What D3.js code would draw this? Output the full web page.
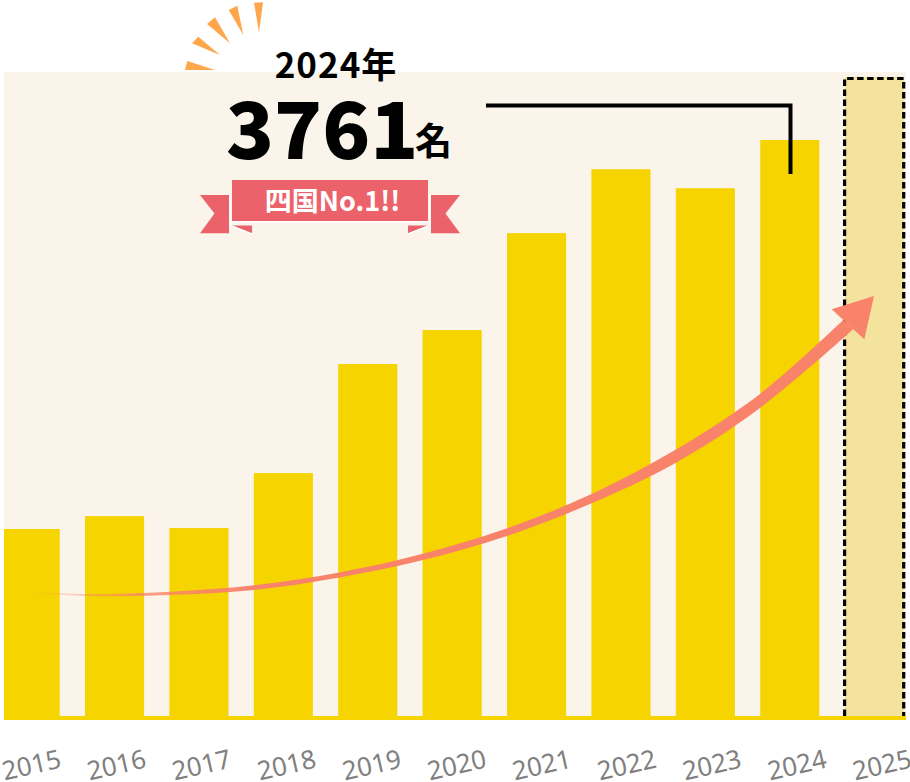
<!DOCTYPE html>
<html><head><meta charset="utf-8">
<style>html,body{margin:0;padding:0;background:#fff}svg{display:block}</style>
<script src="https://cdn.jsdelivr.net/npm/d3@7/dist/d3.min.js"></script>
</head><body><svg id="c" width="910" height="782"></svg>
<script>
const years=["2015","2016","2017","2018","2019","2020","2021","2022","2023","2024"];
const ghostYear="2025";
const values=[1221,1305,1227,1586,2298,2520,3153,3570,3446,3761];
const trendTop=[[20,591.5],[85,594],[170,591.7],[254,585.3],[338,572.7],[422,554],[507,528.3],[591,494.3],[676,449.5],[760,394],[843.3,320]];
const trendBot=[[20,591.5],[85,596],[170,595],[254,590],[338,577.7],[422,560.3],[507,536],[591,503.5],[676,462.7],[760,408],[853.3,329.3]];
const arrowHead=[[831.7,309.3],[843.3,320],[853.3,329.3],[864.3,339.3],[874,296]];
const rays=[[[185,70],[215,70],[187.3,61]],[[192,43.3],[220,55],[198.3,36.7]],[[207,24],[230,43.3],[215,17.3]],[[228.7,10],[243.3,35],[237.3,5.7]],[[254,2.7],[259,32.3],[263,2.3]]];

const svg=d3.select("#c");
const allYears=[...years,ghostYear];
const x=d3.scaleBand().domain(allYears).range([0.6,903.7]).paddingInner(0.3).paddingOuter(0);
const labelX=d3.scalePoint().domain(allYears).range([4.5,855]);
const y=d3.scaleLinear().domain([0,3761]).range([716,140]);
const JP='"Noto Sans CJK JP","Noto Sans",sans-serif';
const defs=svg.append("defs");
defs.append("clipPath").attr("id","plot").append("rect").attr("x",4).attr("y",72).attr("width",902).attr("height",648);
const g=defs.append("linearGradient").attr("id","fade").attr("gradientUnits","userSpaceOnUse").attr("x1",20).attr("x2",260).attr("y1",0).attr("y2",0);
g.append("stop").attr("offset",0).attr("stop-color","#f9826a").attr("stop-opacity",0);
g.append("stop").attr("offset",0.5).attr("stop-color","#f9826a").attr("stop-opacity",.75);
g.append("stop").attr("offset",1).attr("stop-color","#f9826a");

svg.append("rect").attr("x",4).attr("y",72).attr("width",902).attr("height",648).attr("fill","#faf4ea");
const plot=svg.append("g").attr("clip-path","url(#plot)");
plot.selectAll("rect.bar").data(values).join("rect").attr("class","bar")
 .attr("x",(d,i)=>x(years[i])).attr("width",x.bandwidth()).attr("y",d=>y(d)).attr("height",d=>y(0)-y(d)).attr("fill","#f5d400");
plot.append("rect").attr("x",x(ghostYear)).attr("width",x.bandwidth()).attr("y",77).attr("height",716-77).attr("fill","#f4e39c");
plot.append("rect").attr("x",4).attr("width",902).attr("y",716).attr("height",4).attr("fill","#f5d400");
svg.append("path").attr("d",`M${x(ghostYear)} 716V78.5H${x(ghostYear)+x.bandwidth()}V716`).attr("fill","none").attr("stroke","#000").attr("stroke-width",3.2).attr("stroke-dasharray","6.5 3.5");

// trend arrow
const up=d3.line().curve(d3.curveCatmullRom);
const topPath=up(trendTop), botPath=up([...trendBot].reverse());
svg.append("path").attr("d",topPath+"L"+botPath.slice(1)+"Z").attr("fill","url(#fade)");
svg.append("path").attr("d",d3.line()(arrowHead)+"Z").attr("fill","#f9826a");

// callout leader
svg.append("path").attr("d","M486 105.5H790.5V174").attr("fill","none").attr("stroke","#000").attr("stroke-width",4);

// sunburst
svg.selectAll("path.ray").data(rays).join("path").attr("class","ray").attr("d",d=>d3.line()(d)+"Z").attr("fill","#ffa64d");

// callout text
svg.append("text").attr("x",336).attr("y",78).attr("text-anchor","middle").attr("font-family",JP).attr("font-weight",700).attr("font-size",35).attr("letter-spacing",1).attr("fill","#000").text("2024年");
svg.append("text").attr("x",226).attr("y",159).attr("font-family",JP).attr("font-weight",900).attr("font-size",79).attr("fill","#000").text("3761");
svg.append("text").attr("x",415).attr("y",155).attr("font-family",JP).attr("font-weight",700).attr("font-size",37).attr("fill","#000").text("名");

// ribbon
const red="#ec626b";
svg.append("path").attr("d","M200 195H229V233.3H200L214.5 213.5Z").attr("fill",red);
svg.append("path").attr("d","M460 195H431V233.3H460L445.5 213.5Z").attr("fill",red);
svg.append("path").attr("d","M231 225.5H252V233.5ZM429 225.5H408V233.5Z").attr("fill",red);
svg.append("path").attr("d","M230.5 195V225.5L252 234M429.5 195V225.5L408 234").attr("fill","none").attr("stroke","#fff").attr("stroke-width",1.5);
svg.append("path").attr("d","M231 222H429").attr("stroke","#fff").attr("stroke-width",1.5);
svg.append("rect").attr("x",232).attr("y",180).attr("width",196).attr("height",41).attr("fill",red);
svg.append("text").attr("x",332.5).attr("y",211).attr("text-anchor","middle").attr("font-family",JP).attr("font-weight",700).attr("font-size",27).attr("fill","#fff").text("四国No.1!!");

// axis labels
svg.append("g").selectAll("text").data(allYears).join("text")
 .attr("transform",d=>`translate(${labelX(d)},780.5) rotate(-13)`)
 .attr("font-family",'"Noto Sans",sans-serif').attr("font-size",26).attr("fill","#808080").text(d=>d);
</script></body></html>
